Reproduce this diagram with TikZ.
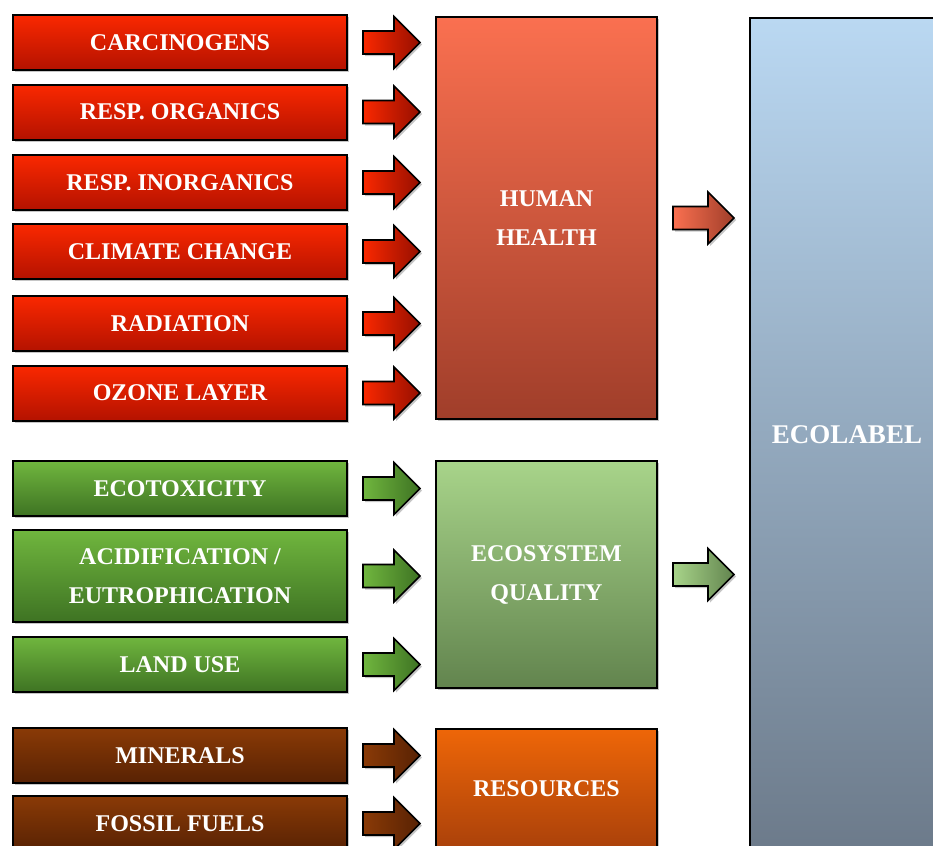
\documentclass[tikz,border=0pt]{standalone}
\usepackage{fontspec}
\setmainfont{Liberation Serif}
\usetikzlibrary{calc,shadows}

\definecolor{redtop}{RGB}{250,40,0}
\definecolor{redbot}{RGB}{180,18,0}
\definecolor{redarr}{RGB}{150,15,0}
\definecolor{hhtop}{RGB}{250,112,80}
\definecolor{hhbot}{RGB}{160,62,42}
\definecolor{greentop}{RGB}{112,182,62}
\definecolor{greenbot}{RGB}{62,115,35}
\definecolor{eqtop}{RGB}{168,212,138}
\definecolor{eqbot}{RGB}{98,132,78}
\definecolor{browntop}{RGB}{138,58,6}
\definecolor{brownbot}{RGB}{88,34,4}
\definecolor{restop}{RGB}{238,102,8}
\definecolor{resbot}{RGB}{170,65,10}
\definecolor{ecotop}{RGB}{186,216,242}
\definecolor{ecobot}{RGB}{108,122,138}

\tikzset{
  box/.style={draw=black, line width=1pt, text=white, align=center,
    font=\bfseries\fontsize{12}{19.5}\selectfont,
    drop shadow={shadow xshift=1pt, shadow yshift=-1pt, opacity=0.45}},
  catbox/.style={box, minimum width=167pt, minimum height=27.5pt},
  redbox/.style={catbox, top color=redtop, bottom color=redbot},
  greenbox/.style={catbox, top color=greentop, bottom color=greenbot},
  brownbox/.style={catbox, top color=browntop, bottom color=brownbot},
  dmgbox/.style={box, minimum width=110.5pt},
  fat arrow/.style={draw=black, line width=0.8pt,
    drop shadow={shadow xshift=1pt, shadow yshift=-1pt, opacity=0.45}}
}

% block arrow from #1 towards #2, shading #3
\newcommand{\fatarrow}[3]{%
  \draw[fat arrow,#3]
    ($(#1.east)+(15,-11.5)$)
    -- ($(#1.east -| #2.west)+(-41,-11.5)$)
    -- ($(#1.east -| #2.west)+(-41,-26)$)
    -- ($(#1.east -| #2.west)+(-15,0)$)
    -- ($(#1.east -| #2.west)+(-41,26)$)
    -- ($(#1.east -| #2.west)+(-41,11.5)$)
    -- ($(#1.east)+(15,11.5)$) -- cycle;}

\begin{document}
\begin{tikzpicture}[x=0.5pt,y=-0.5pt]
	\useasboundingbox (0,0) rectangle (933,846);
	\clip (0,0) rectangle (933,846);
	% impact categories
	\node[redbox] (carc) at (180,42.5) {CARCINOGENS};
	\node[redbox] (rorg) at (180,112) {RESP. ORGANICS};
	\node[redbox] (rinorg) at (180,182.5) {RESP. INORGANICS};
	\node[redbox] (clim) at (180,251.5) {CLIMATE CHANGE};
	\node[redbox] (rad) at (180,323.5) {RADIATION};
	\node[redbox] (ozone) at (180,393) {OZONE LAYER};
	\node[greenbox] (ecotox) at (180,488.5) {ECOTOXICITY};
	\node[greenbox, minimum height=46pt] (acid) at (180,576) {ACIDIFICATION /\\EUTROPHICATION};
	\node[greenbox] (land) at (180,664.5) {LAND USE};
	\node[brownbox] (min) at (180,755.5) {MINERALS};
	\node[brownbox] (fossil) at (180,823.5) {FOSSIL FUELS};
	% damage categories
	\node[dmgbox, minimum height=201pt, top color=hhtop, bottom color=hhbot] (hh) at (546.5,218) {HUMAN\\HEALTH};
	\node[dmgbox, minimum height=113.5pt, top color=eqtop, bottom color=eqbot] (eq) at (546.5,574.5) {ECOSYSTEM\\QUALITY};
	\node[dmgbox, minimum height=60pt, top color=restop, bottom color=resbot] (res) at (546.5,789) {RESOURCES};
	\node[box, minimum width=97pt, minimum height=417pt, top color=ecotop, bottom color=ecobot,
	      font=\bfseries\fontsize{13.5}{16}\selectfont] (eco) at (847,435) {ECOLABEL};
	% arrows
	\foreach \src in {carc,rorg,rinorg,clim,rad,ozone}
	    \fatarrow{\src}{hh}{left color=redtop, right color=redarr};
	\foreach \src in {ecotox,acid,land}
	    \fatarrow{\src}{eq}{left color=greentop, right color=greenbot};
	\foreach \src in {min,fossil}
	    \fatarrow{\src}{res}{left color=browntop, right color=brownbot};
	\fatarrow{hh}{eco}{left color=hhtop, right color=hhbot}
	\fatarrow{eq}{eco}{left color=eqtop, right color=eqbot}
\end{tikzpicture}
\end{document}
